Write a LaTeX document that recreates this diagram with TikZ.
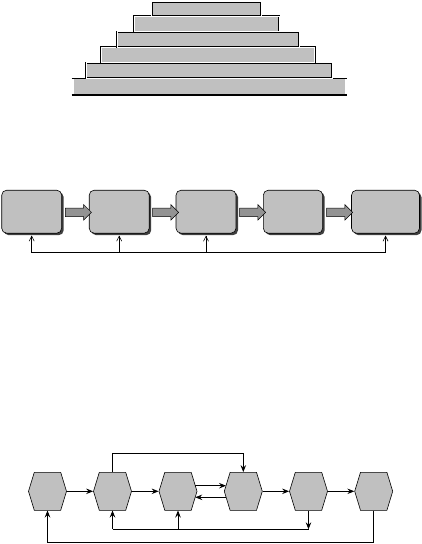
\documentclass[tikz,border=0pt]{standalone}
\usetikzlibrary{arrows.meta,calc,shadows,shapes.arrows}

\definecolor{silver}{RGB}{192,192,192}

\tikzset{
  stepbox/.style={draw=black, double=white, double distance=0.9pt, line width=0.5pt, fill=silver},
  stage/.style={draw, fill=silver, rounded corners=5pt, line width=0.6pt, inner sep=0pt,
    minimum height=43pt,
    drop shadow={shadow xshift=2pt, shadow yshift=-2pt, fill=black!75, opacity=1}},
  fatarrow/.style={single arrow, draw, fill=gray!85, line width=0.5pt, inner xsep=0pt, inner ysep=4pt,
    minimum height=26pt, single arrow head extend=3.5pt},
  hexfill/.style={draw, fill=silver, line width=0.6pt},
  hexcore/.style={inner sep=0pt, minimum width=38.4pt, minimum height=38pt},
  feed/.style={line width=0.6pt, -{Straight Barb[length=5pt,width=5pt]}},
  link/.style={line width=0.7pt, -{Stealth[length=7pt,width=5.5pt,inset=2.5pt]}},
  wire/.style={line width=0.7pt}
}

\newcommand\hexcell[3]{%
  \draw[hexfill] (#2,#3) +(-19,0) -- +(-13.2,-19) -- +(13.2,-19) -- +(19,0) -- +(13.2,19) -- +(-13.2,19) -- cycle;
  \node[hexcore] (#1) at (#2,#3) {};
}

\begin{document}
\begin{tikzpicture}[x=1pt,y=-1pt]
  \useasboundingbox (0,0) rectangle (422,544);

  \fill[silver] (74,78.3) rectangle (345,95);
  \draw[line width=0.6pt] (71.7,78.3) -- (347.3,78.3);
  \draw[line width=1.2pt] (71.7,95) -- (347.3,95);
  \draw[stepbox] (86,62.7) rectangle (332.3,78.3);
  \draw[stepbox] (101.3,47.3) rectangle (314.7,62.7);
  \draw[stepbox] (117,31.7) rectangle (299,47.3);
  \draw[stepbox] (134,16) rectangle (279.3,31.7);
  \draw[stepbox] (151.7,1.8) rectangle (261.3,16);

  \node[stage, minimum width=60pt] (b1) at (31.7,211.7) {};
  \node[stage, minimum width=60pt] (b2) at (119.2,211.7) {};
  \node[stage, minimum width=60pt] (b3) at (206,211.7) {};
  \node[stage, minimum width=59.4pt] (b4) at (293,211.7) {};
  \node[stage, minimum width=68pt] (b5) at (385.5,211.7) {};

  \node[fatarrow] (a1) at (76.3,212.3) {};
  \node[fatarrow] (a2) at (163.5,212.3) {};
  \node[fatarrow] (a3) at (250.5,212.3) {};
  \node[fatarrow] (a4) at (337.5,212.3) {};

  \coordinate (fl) at (0,252.7);
  \begin{scope}[line width=0.6pt]
    \draw (b1 |- fl) -- (b5 |- fl);
    \draw[feed] (b1 |- fl) -- ([yshift=-2pt]b1.south);
    \draw[feed] (b2 |- fl) -- ([yshift=-2pt]b2.south);
    \draw[feed] (b3 |- fl) -- ([yshift=-2pt]b3.south);
    \draw[feed] (b5 |- fl) -- ([yshift=-2pt]b5.south);
  \end{scope}

  \hexcell{h1}{47.5}{491.3}
  \hexcell{h2}{112.5}{491.3}
  \hexcell{h3}{178}{491.3}
  \hexcell{h4}{243.3}{491.3}
  \hexcell{h5}{308.5}{491.3}
  \hexcell{h6}{373.7}{491.3}

  \coordinate (lo) at (0,529.3);
  \coordinate (ou) at (0,542);
  \begin{scope}
    \draw[link] (h1.east) -- (h2.west);
    \draw[link] (h2.east) -- (h3.west);
    \draw[link] (h4.east) -- (h5.west);
    \draw[link] (h5.east) -- (h6.west);
    \draw[link] ($(h3)+(17.3,-5.6)$) -- ($(h4)+(-17.3,-5.6)$);
    \draw[link] ($(h4)+(-17.3,6)$) -- ($(h3)+(17.3,6)$);
    \draw[link] (h2.north) -- ++(0,-19) -| (h4.north);
    \draw[link] (h5.south) -- (h5 |- lo);
    \draw[wire] (h5 |- lo) -- (h2 |- lo);
    \draw[link] (h2 |- lo) -- (h2.south);
    \draw[link] (h3 |- lo) -- (h3.south);
    \draw[link] (h6.south) |- (h1 |- ou) -- (h1.south);
  \end{scope}
\end{tikzpicture}
\end{document}
